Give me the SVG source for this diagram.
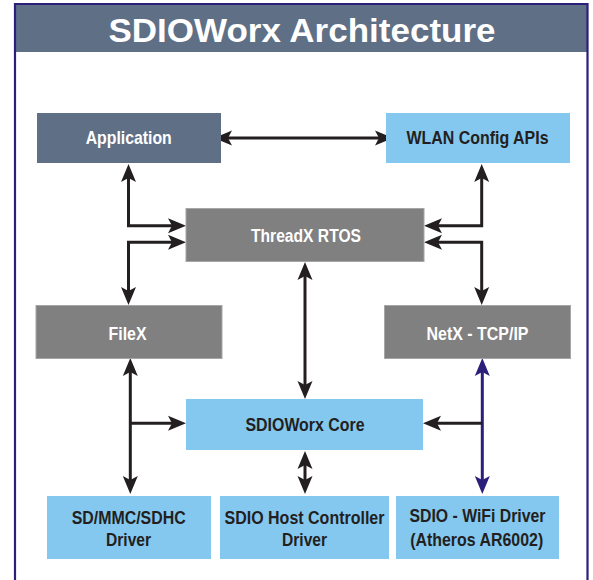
<svg xmlns="http://www.w3.org/2000/svg" width="593" height="580" viewBox="0 0 593 580">
<defs>
<style>
.t{font-family:"Liberation Sans",Arial,sans-serif;font-weight:bold;font-size:19px;text-anchor:middle}
.w{fill:#ffffff}
.d{fill:#231f20}
.slate{fill:#5f6f86}
.gray{fill:#808080;stroke:#a6a6a6;stroke-width:1}
.blue{fill:#84c8ef}
.c{fill:none;stroke:#231f20;stroke-width:3}
.cb{fill:none;stroke:#2b1f7a;stroke-width:3}
</style>
<marker id="ah" viewBox="-20 -10 20 20" refX="-8" refY="0" markerWidth="20" markerHeight="20" markerUnits="userSpaceOnUse" orient="auto-start-reverse">
<path d="M0,0 L-18,-7.5 L-14,0 L-18,7.5 Z" fill="#231f20"/>
</marker>
<marker id="ahb" viewBox="-20 -10 20 20" refX="-8" refY="0" markerWidth="20" markerHeight="20" markerUnits="userSpaceOnUse" orient="auto-start-reverse">
<path d="M0,0 L-18,-7.5 L-14,0 L-18,7.5 Z" fill="#2b1f7a"/>
</marker>
</defs>
<rect x="0" y="0" width="593" height="580" fill="#ffffff"/>
<g id="frame">
<rect x="15" y="4" width="572.5" height="48" class="slate"/>
<path d="M15,590 V4 H587.5 V590" fill="none" stroke="#2b1f7a" stroke-width="2.2"/>
<text x="302" y="42" font-family="Liberation Sans,Arial,sans-serif" font-weight="bold" font-size="34" fill="#ffffff" text-anchor="middle" textLength="387" lengthAdjust="spacingAndGlyphs">SDIOWorx Architecture</text>
</g>
<g id="connectors">
<path class="c" d="M222,138 H385" marker-start="url(#ah)" marker-end="url(#ah)"/>
<path class="c" d="M128.5,172 V225.7 H178" marker-start="url(#ah)" marker-end="url(#ah)"/>
<path class="c" d="M178,242.3 H128.5 V297" marker-start="url(#ah)" marker-end="url(#ah)"/>
<path class="c" d="M481.7,172 V225.7 H432" marker-start="url(#ah)" marker-end="url(#ah)"/>
<path class="c" d="M432,242.3 H481.7 V297" marker-start="url(#ah)" marker-end="url(#ah)"/>
<path class="c" d="M305,270 V391" marker-start="url(#ah)" marker-end="url(#ah)"/>
<path class="c" d="M130.3,366 V486" marker-start="url(#ah)" marker-end="url(#ah)"/>
<path class="c" d="M130.3,423.3 H178" stroke-width="2.5" marker-end="url(#ah)"/>
<path class="c" d="M305,459 V486" marker-start="url(#ah)" marker-end="url(#ah)"/>
<path class="cb" d="M482.3,366 V486" marker-start="url(#ahb)" marker-end="url(#ahb)"/>
<path class="c" d="M482.3,423.3 H431" stroke-width="2.5" marker-end="url(#ah)"/>
</g>
<g id="application">
<rect x="37" y="113" width="184" height="50" class="slate"/>
<text x="128.7" y="143.5" class="t w" textLength="86" lengthAdjust="spacingAndGlyphs">Application</text>
</g>
<g id="wlan">
<rect x="386" y="113" width="184" height="50" class="blue"/>
<text x="477.5" y="143.5" class="t d" textLength="142" lengthAdjust="spacingAndGlyphs">WLAN Config APIs</text>
</g>
<g id="threadx">
<rect x="186" y="208.5" width="238" height="53" class="gray"/>
<text x="306" y="242" class="t w" textLength="110" lengthAdjust="spacingAndGlyphs">ThreadX RTOS</text>
</g>
<g id="filex">
<rect x="36" y="305.5" width="186" height="53" class="gray"/>
<text x="127.5" y="339.5" class="t w" textLength="38" lengthAdjust="spacingAndGlyphs">FileX</text>
</g>
<g id="netx">
<rect x="384.5" y="305.5" width="186" height="53" class="gray"/>
<text x="477.5" y="339.5" class="t w" textLength="102" lengthAdjust="spacingAndGlyphs">NetX - TCP/IP</text>
</g>
<g id="core">
<rect x="186" y="399" width="237" height="51" class="blue"/>
<text x="305" y="430.5" class="t d" textLength="119" lengthAdjust="spacingAndGlyphs">SDIOWorx Core</text>
</g>
<g id="sdmmc">
<rect x="47" y="496" width="164" height="63" class="blue"/>
<text x="128.7" y="523.5" class="t d" textLength="114" lengthAdjust="spacingAndGlyphs">SD/MMC/SDHC</text>
<text x="128.5" y="545.5" class="t d" textLength="45" lengthAdjust="spacingAndGlyphs">Driver</text>
</g>
<g id="hostctrl">
<rect x="220" y="496" width="169" height="63" class="blue"/>
<text x="304.5" y="523.5" class="t d" textLength="160" lengthAdjust="spacingAndGlyphs">SDIO Host Controller</text>
<text x="304.5" y="545.5" class="t d" textLength="45" lengthAdjust="spacingAndGlyphs">Driver</text>
</g>
<g id="wifi">
<rect x="396" y="496" width="163" height="63" class="blue"/>
<text x="477.5" y="522" class="t d" textLength="136" lengthAdjust="spacingAndGlyphs">SDIO - WiFi Driver</text>
<text x="476.7" y="545.5" class="t d" textLength="133" lengthAdjust="spacingAndGlyphs">(Atheros AR6002)</text>
</g>
</svg>
